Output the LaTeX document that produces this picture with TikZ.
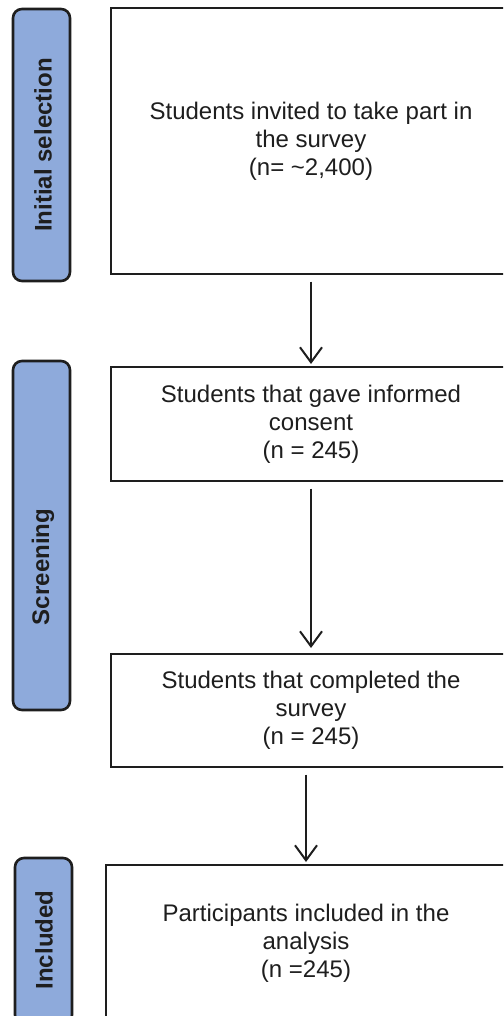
\documentclass[tikz,border=0pt]{standalone}
\usepackage{fontspec}
\setmainfont{Liberation Sans}
\usepackage{tikz}
\usetikzlibrary{arrows.meta}
\definecolor{stageblue}{HTML}{8EAADB}
\definecolor{inkgray}{HTML}{1E1E1E}
\tikzset{
  stagebox/.style={draw=inkgray, line width=2.6pt, fill=stageblue, rounded corners=9pt},
  stagetext/.style={rotate=90, font=\fontsize{24}{28}\selectfont\bfseries, text=inkgray},
  flowbox/.style={draw=inkgray, line width=2pt, minimum width=400pt, align=center,
    font=\fontsize{24}{28}\selectfont, text=inkgray, inner sep=0pt},
  flowarrow/.style={draw=inkgray, line width=2pt, -{Straight Barb[length=15pt,width=22pt]},
    shorten <=6.5pt, shorten >=2pt}
}

\begin{document}
\begin{tikzpicture}[x=1pt,y=-1pt]
            \clip (0,0) rectangle (503,1016);
            \fill[white] (0,0) rectangle (503,1016);
            % stages on the left
            \draw[stagebox] (13,9) rectangle (70,281);
            \node[stagetext] (initial) at (43,145) {Initial selection};
            \draw[stagebox] (13,361) rectangle (70,710);
            \node[stagetext] (screening) at (43,567) {Screening};
            \draw[stagebox] (15,858) rectangle (72,1024);
            \node[stagetext] (included) at (44,940) {Included};
            % flow boxes
            \node[flowbox, minimum height=266pt] (invited) at (311,141)
                {Students invited to take part in\\the survey\\(n= \textasciitilde 2,400)};
            \node[flowbox, minimum height=114pt] (consent) at (311,424)
                {Students that gave informed\\consent\\(n = 245)};
            \node[flowbox, minimum height=113pt] (completed) at (311,710.5)
                {Students that completed the\\survey\\(n = 245)};
            \node[flowbox, minimum height=156pt] (analysed) at (306,943)
                {Participants included in the\\analysis\\(n =245)};
            % arrows
            \draw[flowarrow] (invited.south) -- (consent.north);
            \draw[flowarrow, shorten >=5pt] (consent.south) -- (completed.north);
            \draw[flowarrow] (analysed.north |- completed.south) -- (analysed.north);
        \end{tikzpicture}
\end{document}
